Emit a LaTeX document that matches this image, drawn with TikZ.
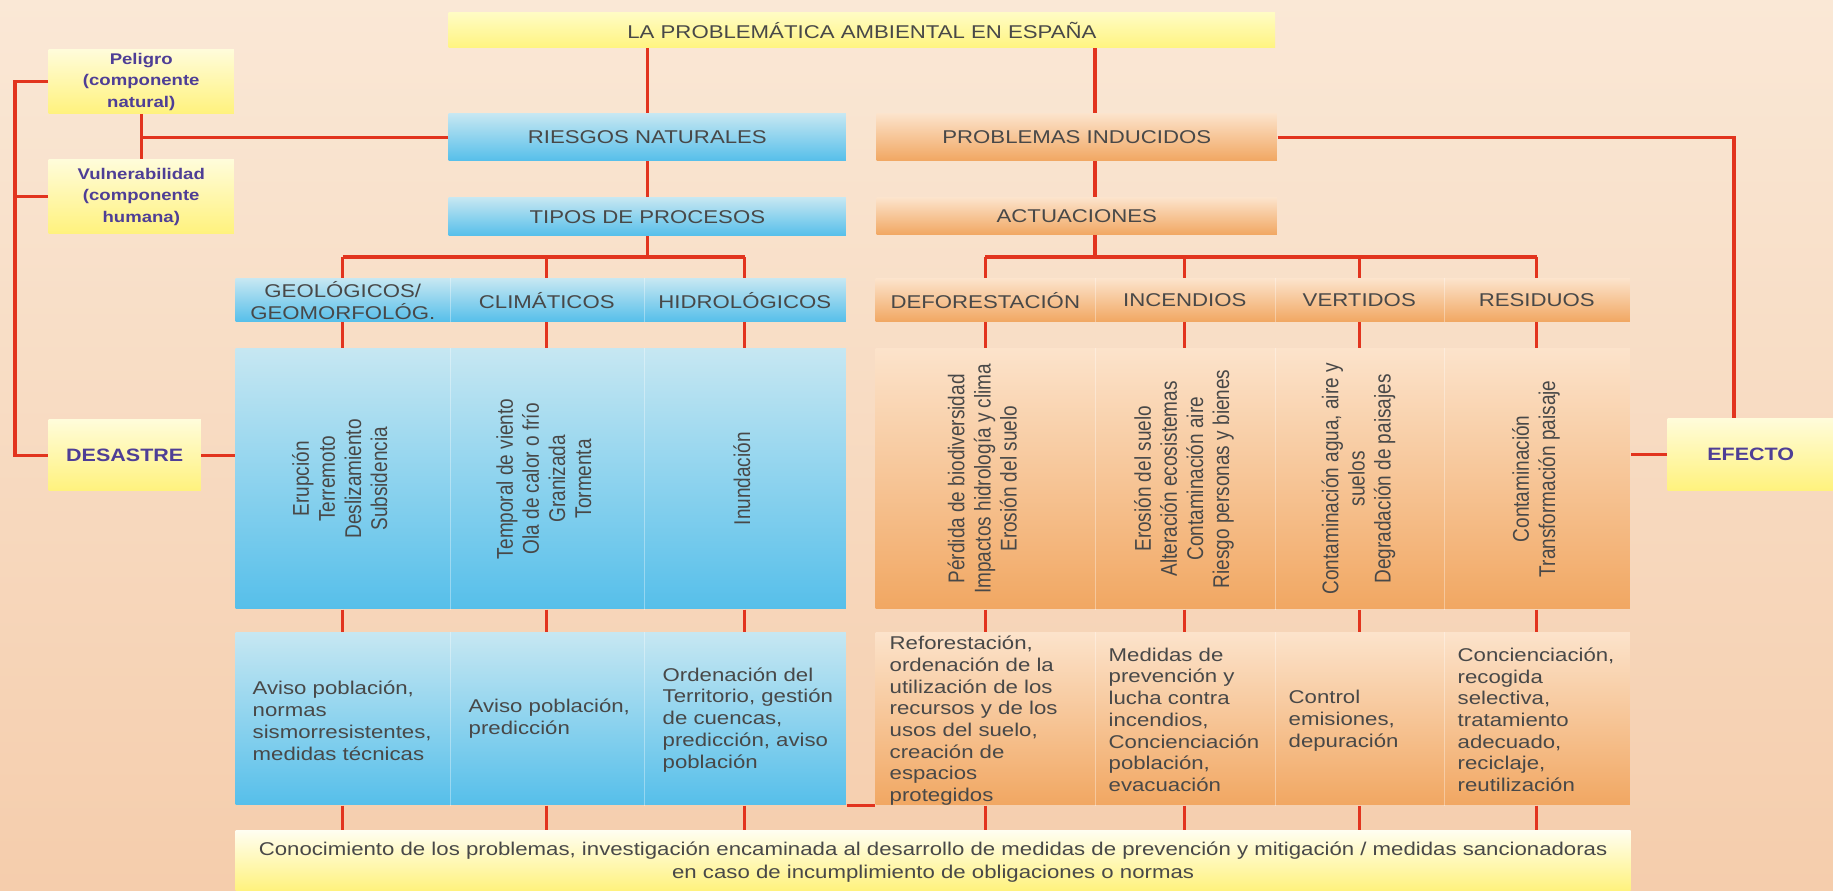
\documentclass[tikz,border=0pt]{standalone}
\usepackage{fontspec}
\usepackage{graphicx}
\setmainfont[FakeStretch=1.2]{Liberation Sans}
\newfontfamily\rotfont{Liberation Sans}
\usetikzlibrary{calc}

\definecolor{bgtop}{RGB}{250,232,214}
\definecolor{bgbot}{RGB}{245,205,172}
\definecolor{lnred}{RGB}{226,52,30}
\definecolor{txt}{RGB}{72,72,72}
\definecolor{purp}{RGB}{78,62,150}
\definecolor{yelT}{RGB}{255,252,218}
\definecolor{yelB}{RGB}{255,242,125}
\definecolor{titT}{RGB}{255,252,196}
\definecolor{titB}{RGB}{255,244,128}
\definecolor{bluT}{RGB}{198,231,242}
\definecolor{bluB}{RGB}{86,191,234}
\definecolor{orgT}{RGB}{252,227,203}
\definecolor{orgB}{RGB}{241,167,98}

\newcommand\fsz{\fontsize{5.26pt}{6.17pt}\selectfont}
\newcommand\rotlines[1]{\scalebox{1}[1.2]{\rotfont\fontsize{5.4pt}{6.2pt}\selectfont\begin{tabular}{@{}c@{}}#1\end{tabular}}}

\begin{document}
\begin{tikzpicture}[x=0.01cm, y=-0.01cm,
  wh/.style 2 args={minimum width=#1cm, minimum height=#2cm},
  box/.style={inner sep=0pt, anchor=north west, text=txt, font=\fsz, align=center},
  ybox/.style={box, top color=yelT, bottom color=yelB},
  tbox/.style={box, top color=titT, bottom color=titB},
  bbox/.style={box, top color=bluT, bottom color=bluB},
  obox/.style={box, top color=orgT, bottom color=orgB},
  pbox/.style={ybox, text=purp, font=\bfseries\fontsize{4.4pt}{6.1pt}\selectfont},
  dbox/.style={ybox, text=purp, font=\bfseries\fontsize{5.1pt}{6.1pt}\selectfont},
  rottxt/.style={rotate=90, inner sep=0pt, text=txt},
  lowtxt/.style={anchor=west, align=left, inner sep=0pt, text=txt, font=\fsz},
  link/.style={draw=lnred, line width=0.9pt},
  divider/.style={draw=white, draw opacity=0.35, line width=0.5pt}
]
\useasboundingbox (0,0) rectangle (1833,890);
\shade[top color=bgtop, bottom color=bgbot] (0,0) rectangle (1833,890);

% top level
\node[tbox, wh={8.26}{0.35}] (title) at (448,12) {LA PROBLEMÁTICA AMBIENTAL EN ESPAÑA};
\node[pbox, wh={1.85}{0.64}] (peligro) at (48,49) {Peligro\\(componente\\natural)};
\node[pbox, wh={1.85}{0.74}] (vuln) at (48,159) {Vulnerabilidad\\(componente\\humana)};
\node[dbox, wh={1.52}{0.71}] (desastre) at (48,419) {DESASTRE};
\node[dbox, wh={1.66}{0.72}] (efecto) at (1667,418) {EFECTO};

\node[bbox, wh={3.97}{0.47}] (riesgos) at (448,113) {RIESGOS NATURALES};
\node[obox, wh={4.00}{0.47}] (problemas) at (876,113) {PROBLEMAS INDUCIDOS};
\node[bbox, wh={3.97}{0.38}] (tipos) at (448,197) {TIPOS DE PROCESOS};
\node[obox, wh={4.00}{0.37}] (actuaciones) at (876,197) {ACTUACIONES};

% header row
\node[bbox, wh={2.14}{0.43}] (geo) at (235,278) {GEOLÓGICOS/\\GEOMORFOLÓG.};
\node[bbox, wh={1.94}{0.43}] (clim) at (449,278) {CLIMÁTICOS};
\node[bbox, wh={2.02}{0.43}] (hidro) at (643,278) {HIDROLÓGICOS};
\node[obox, wh={2.19}{0.43}] (defo) at (875,278) {DEFORESTACIÓN};
\node[obox, wh={1.80}{0.43}] (ince) at (1094,278) {INCENDIOS};
\node[obox, wh={1.69}{0.43}] (vert) at (1274,278) {VERTIDOS};
\node[obox, wh={1.86}{0.43}] (resi) at (1443,278) {RESIDUOS};

% big boxes
\node[bbox, wh={2.14}{2.60}] (bgeo) at (235,348) {};
\node[bbox, wh={1.94}{2.60}] (bclim) at (449,348) {};
\node[bbox, wh={2.02}{2.60}] (bhidro) at (643,348) {};
\node[obox, wh={2.19}{2.60}] (bdefo) at (875,348) {};
\node[obox, wh={1.80}{2.60}] (bince) at (1094,348) {};
\node[obox, wh={1.69}{2.60}] (bvert) at (1274,348) {};
\node[obox, wh={1.86}{2.60}] (bresi) at (1443,348) {};

\node[rottxt] (tgeo) at (bgeo.center) {\rotlines{Erupción\\Terremoto\\Deslizamiento\\Subsidencia}};
\node[rottxt] (tclim) at (bclim.center) {\rotlines{Temporal de viento\\Ola de calor o frío\\Granizada\\Tormenta}};
\node[rottxt] (thidro) at (bhidro.center) {\rotlines{Inundación}};
\node[rottxt] (tdefo) at (bdefo.center) {\rotlines{Pérdida de biodiversidad\\Impactos hidrología y clima\\Erosión del suelo}};
\node[rottxt] (tince) at (bince.center) {\rotlines{Erosión del suelo\\Alteración ecosistemas\\Contaminación aire\\Riesgo personas y bienes}};
\node[rottxt] (tvert) at (bvert.center) {\rotlines{Contaminación agua, aire y\\suelos\\Degradación de paisajes}};
\node[rottxt] (tresi) at (bresi.center) {\rotlines{Contaminación\\Transformación paisaje}};

% lower boxes
\node[bbox, wh={2.14}{1.72}] (lgeo) at (235,632) {};
\node[bbox, wh={1.94}{1.72}] (lclim) at (449,632) {};
\node[bbox, wh={2.02}{1.72}] (lhidro) at (643,632) {};
\node[obox, wh={2.19}{1.72}] (ldefo) at (875,632) {};
\node[obox, wh={1.80}{1.72}] (lince) at (1094,632) {};
\node[obox, wh={1.69}{1.72}] (lvert) at (1274,632) {};
\node[obox, wh={1.86}{1.72}] (lresi) at (1443,632) {};

\node[lowtxt] (xgeo) at ($(lgeo.west)+(17,2)$) {Aviso población,\\normas\\sismorresistentes,\\medidas técnicas};
\node[lowtxt] (xclim) at ($(lclim.west)+(19,0)$) {Aviso población,\\predicción};
\node[lowtxt] (xhidro) at ($(lhidro.west)+(19,1)$) {Ordenación del\\Territorio, gestión\\de cuencas,\\predicción, aviso\\población};
\node[lowtxt] (xdefo) at ($(ldefo.west)+(14,2)$) {Reforestación,\\ordenación de la\\utilización de los\\recursos y de los\\usos del suelo,\\creación de\\espacios\\protegidos};
\node[lowtxt] (xince) at ($(lince.west)+(14,1)$) {Medidas de\\prevención y\\lucha contra\\incendios,\\Concienciación\\población,\\evacuación};
\node[lowtxt] (xvert) at ($(lvert.west)+(14,2)$) {Control\\emisiones,\\depuración};
\node[lowtxt] (xresi) at ($(lresi.west)+(14,1)$) {Concienciación,\\recogida\\selectiva,\\tratamiento\\adecuado,\\reciclaje,\\reutilización};

% bottom box
\node[ybox, wh={13.94}{0.60}, top color=white!60!yelT] (bottom) at (235,830) {};
\node[inner sep=0pt, text=txt, font=\fontsize{5.26pt}{6.5pt}\selectfont, align=center] (btxt) at ($(bottom.center)+(0,1)$) {Conocimiento de los problemas, investigación encaminada al desarrollo de medidas de prevención y mitigación / medidas sancionadoras\\en caso de incumplimiento de obligaciones o normas};

% column dividers
\foreach \n in {geo,clim,defo,ince,vert}{
  \draw[divider] (\n.north east) -- (\n.south east);
  \draw[divider] (b\n.north east) -- (b\n.south east);
  \draw[divider] (l\n.north east) -- (l\n.south east);
}

% connectors
\coordinate (pcx) at (1095,0);
\coordinate (bj) at (0,257);
\coordinate (sp) at (15,0);
\coordinate (ec) at (1734,0);

\draw[link] (riesgos.north |- title.south) -- (riesgos.north);
\draw[link] (pcx |- title.south) -- (pcx |- problemas.north);
\draw[link] (riesgos.south) -- (tipos.north);
\draw[link] (pcx |- problemas.south) -- (pcx |- actuaciones.north);

\draw[link] (tipos.south) -- (tipos.south |- bj);
\draw[link] (geo.north |- bj) -- (hidro.north |- bj);
\draw[link] (pcx |- actuaciones.south) -- (pcx |- bj);
\draw[link] (defo.north |- bj) -- (resi.north |- bj);
\foreach \n in {geo,clim,hidro,defo,ince,vert,resi}{
  \draw[link] (\n.north |- bj) -- (\n.north);
  \draw[link] (\n.south) -- (b\n.north);
  \draw[link] (b\n.south) -- (l\n.north);
  \draw[link] (l\n.south) -- (l\n.south |- bottom.north);
}

\draw[link] (peligro.south) -- (vuln.north);
\draw[link] (peligro.south |- riesgos.west) -- (riesgos.west);
\draw[link] (peligro.west) -- (sp |- peligro.west) -- (sp |- desastre.west) -- (desastre.west);
\draw[link] (vuln.west) -- (sp |- vuln.west);
\draw[link] (desastre.east) -- (bgeo.west |- desastre.east);

\draw[link] (problemas.east) -- (ec |- problemas.east) -- (ec |- efecto.north);
\draw[link] (efecto.west) -- (bresi.east |- efecto.west);
\draw[link] (lhidro.south east) -- (ldefo.south west);
\end{tikzpicture}
\end{document}
